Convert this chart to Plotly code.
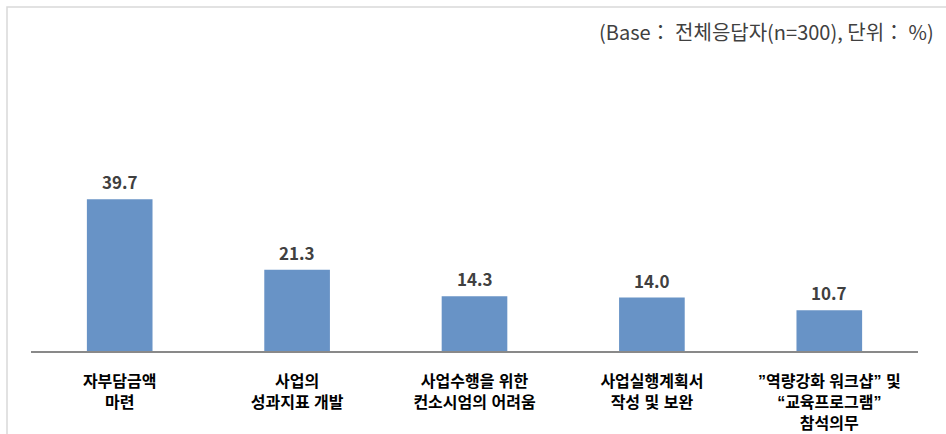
import plotly.graph_objects as go

categories = [
    "자부담금액<br>마련",
    "사업의<br>성과지표 개발",
    "사업수행을 위한<br>컨소시엄의 어려움",
    "사업실행계획서<br>작성 및 보완",
    "\u201d역량강화 워크샵\u201d 및<br>\u201c교육프로그램\u201d<br>참석의무",
]
values = [39.7, 21.3, 14.3, 14.0, 10.7]
note = "(Base\uff1a 전체응답자(n=300), 단위\uff1a %)"

BAR = "#6893C6"
LABEL = "#404040"
FONT = "Noto Sans CJK KR"
TICK_FONT = "Liberation Sans, Noto Sans CJK KR"

W, H = 946, 434
ML, MR, MT, MB = 31, 28, 160, 83
PW, PH = W - ML - MR, H - MT - MB

fig = go.Figure(
    go.Bar(
        x=categories,
        y=values,
        marker=dict(color=BAR, line=dict(width=0)),
        width=0.37,
        hoverinfo="x+y",
    )
)

# value labels above each bar
for c, v in zip(categories, values):
    fig.add_annotation(
        x=c, y=v, text=f"<b>{v:.1f}</b>", showarrow=False,
        yanchor="bottom", yshift=3,
        font=dict(family=FONT, size=17, color=LABEL),
    )

# unit / base note
fig.add_annotation(
    xref="paper", yref="paper", x=(936 - ML) / PW, y=(H - MB - 31) / PH,
    xanchor="right", yanchor="middle", text=note, showarrow=False,
    font=dict(family=FONT, size=20, color=LABEL),
)

# outer frame (only top/left edges fall inside the canvas)
fig.add_shape(
    type="rect", xref="paper", yref="paper",
    x0=(7 - ML) / PW, x1=1.2, y0=-1.0, y1=(H - MB - 7) / PH,
    line=dict(color="#D9D9D9", width=1.5), layer="below",
)

fig.update_layout(
    width=W, height=H,
    margin=dict(l=ML, r=MR, t=MT, b=MB),
    paper_bgcolor="white", plot_bgcolor="white",
    showlegend=False,
    font=dict(family=FONT, color="#000000"),
    xaxis=dict(
        showline=True, linecolor="#898989", linewidth=2,
        ticks="", showgrid=False, automargin=False,
        tickfont=dict(family=TICK_FONT, size=16, color="#000000"),
        ticklabelstandoff=15,
        tickprefix="<b>", ticksuffix="</b>",
    ),
    yaxis=dict(
        range=[0, 50], visible=False, showgrid=False, zeroline=False,
        automargin=False,
    ),
)

fig.write_html("out.html")
